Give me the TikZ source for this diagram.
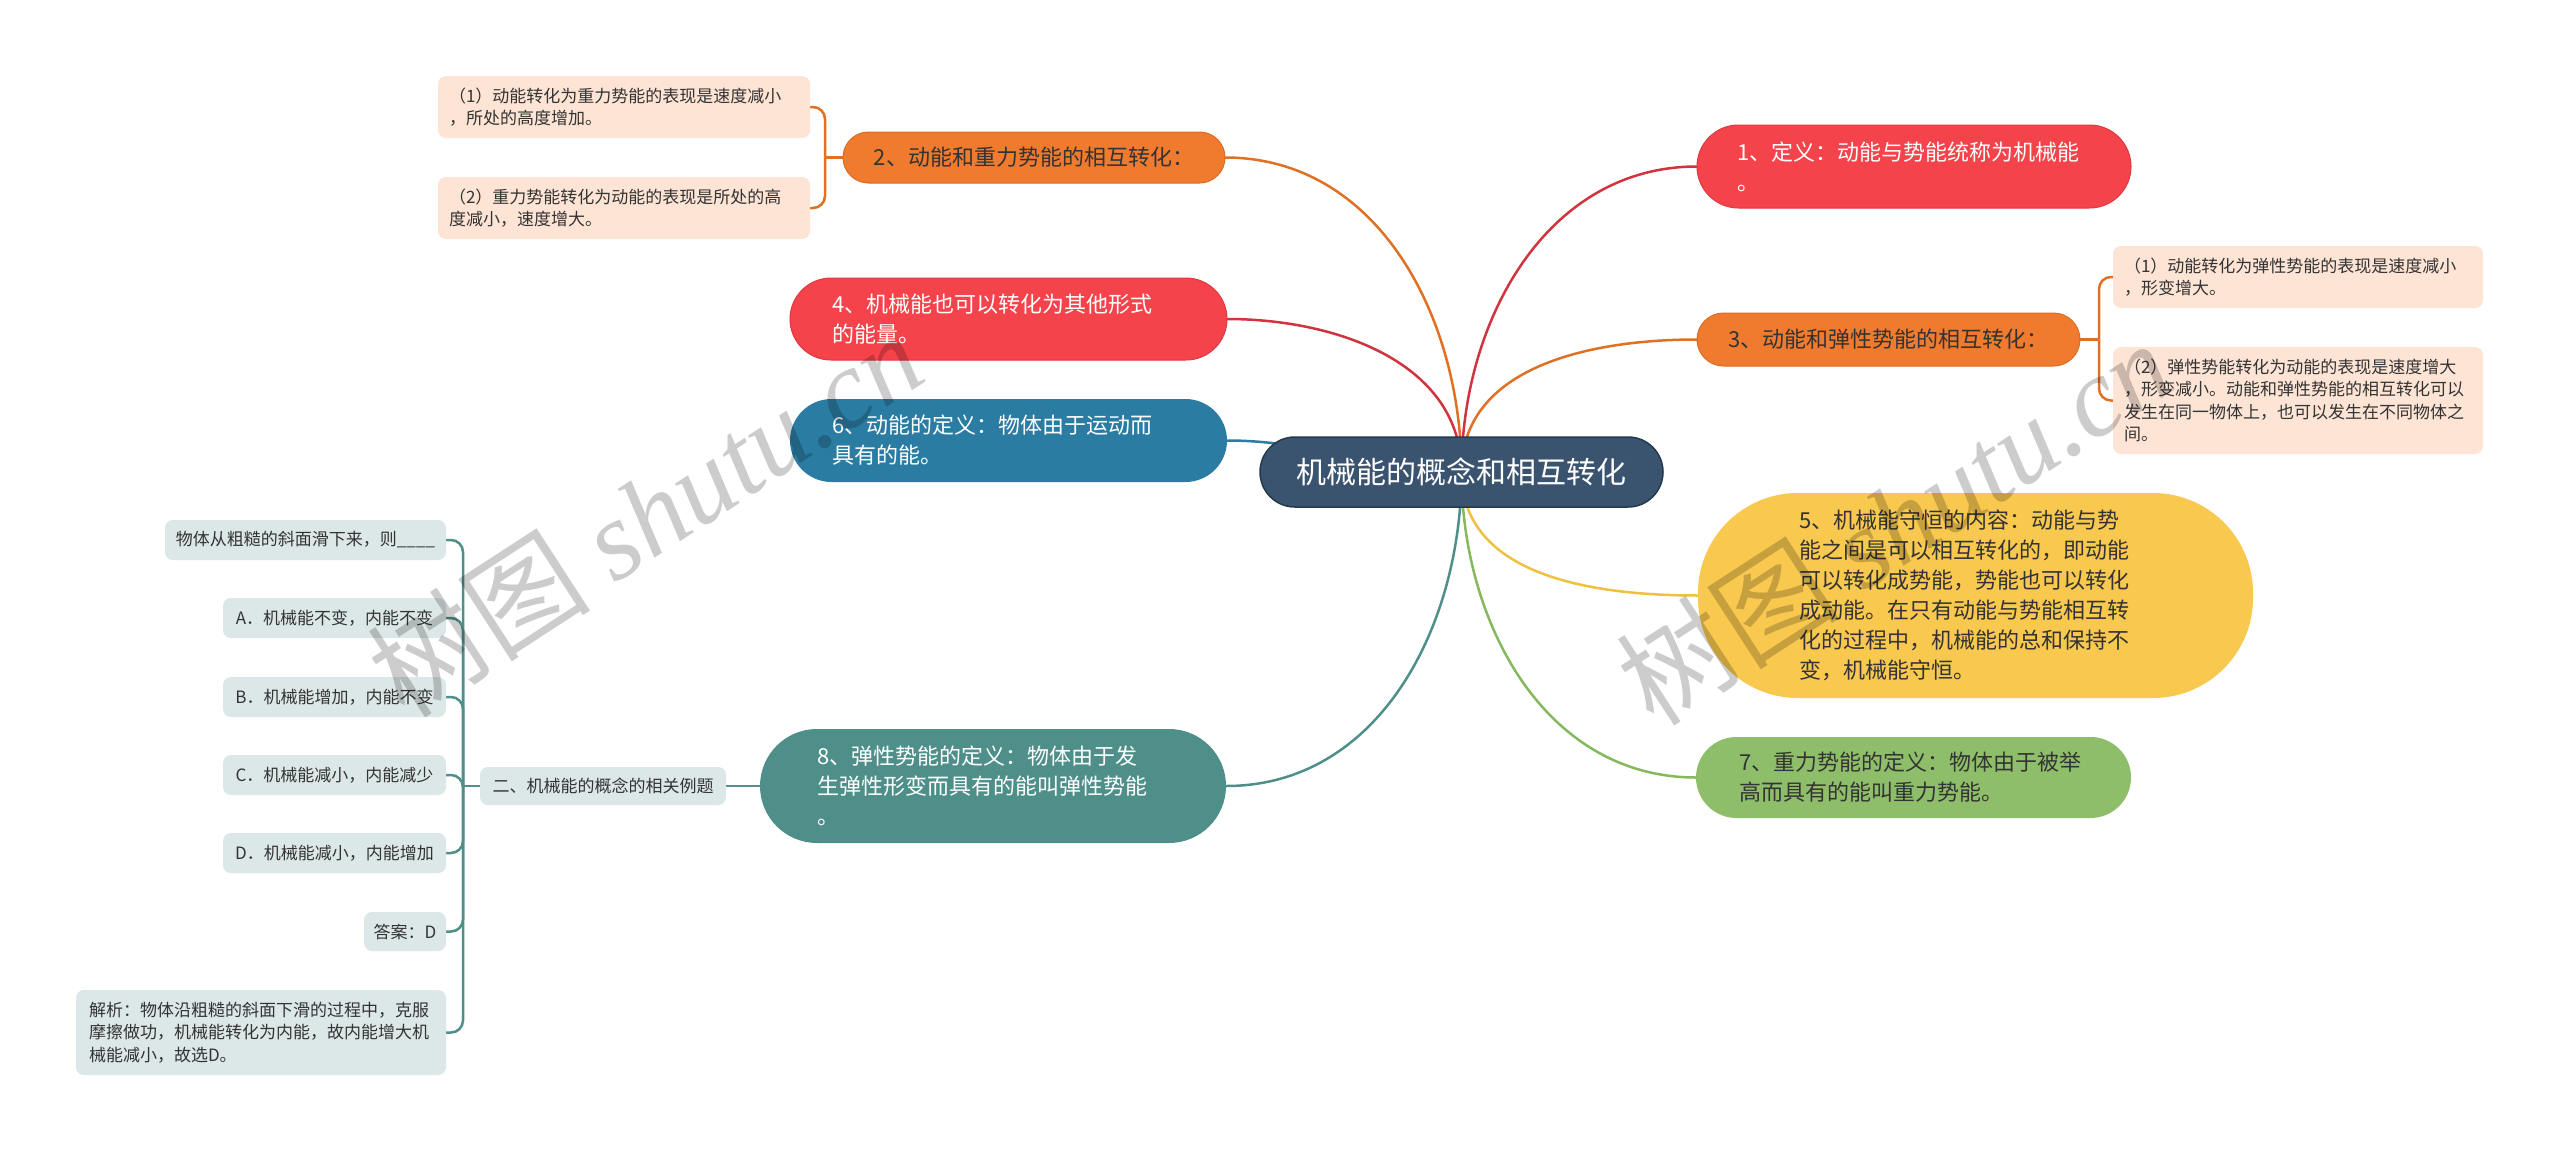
\documentclass[tikz,border=0pt]{standalone}
\usepackage{fontspec}
\setmainfont{Noto Sans CJK SC}
\newfontfamily\wmserif{Liberation Serif}
\usetikzlibrary{backgrounds}
\definecolor{rootc}{HTML}{3A5470}
\definecolor{rootb}{HTML}{24384E}
\definecolor{redc}{HTML}{F5434B}
\definecolor{redb}{HTML}{DC3A42}
\definecolor{orc}{HTML}{F07B2E}
\definecolor{orb}{HTML}{DC6C22}
\definecolor{bluec}{HTML}{2B7CA3}
\definecolor{yelc}{HTML}{F8C84F}
\definecolor{grnc}{HTML}{8FBE6B}
\definecolor{tealc}{HTML}{4F8F8A}
\definecolor{peach}{HTML}{FDE4D5}
\definecolor{ltteal}{HTML}{DCE8E7}
\definecolor{txt}{HTML}{333333}
\definecolor{lred}{HTML}{D0343E}
\definecolor{lor}{HTML}{E07024}
\definecolor{lyel}{HTML}{F0C040}
\definecolor{lgrn}{HTML}{86B85E}
\begin{document}
\begin{tikzpicture}[x=1pt,y=1pt]
\tikzset{
  base/.style={inner sep=0pt, outer sep=0pt},
  bignode/.style={base, font=\fontsize{22}{30}\selectfont, align=left},
  smallnode/.style={base, font=\fontsize{17}{22.5}\selectfont, align=left, text=txt, rounded corners=8pt},
  peachnode/.style={smallnode, fill=peach},
  tealnode/.style={smallnode, fill=ltteal},
  conn/.style={line width=2.5pt, line cap=round},
  brk/.style={line width=2.5pt, rounded corners=12pt},
  wm/.style={base, text=black, text opacity=0.2, font=\fontsize{112}{112}\selectfont},
}
\useasboundingbox (0,0) rectangle (2560,-1151);

% root
\node[base, fill=rootc, draw=rootb, line width=1.5pt, rounded corners=35pt, minimum width=403pt, minimum height=70pt, text=white, font=\fontsize{30}{36}\selectfont] (root) at (1461.5,-472) {机械能的概念和相互转化};

% main branches
\node[bignode, fill=redc, draw=redb, line width=1pt, rounded corners=41.5pt, minimum width=434pt, minimum height=83pt, text width=354pt, text=white] (n1) at (1914,-166.5) {1、定义：动能与势能统称为机械能\\。};
\node[bignode, fill=orc, draw=orb, line width=1pt, rounded corners=25.5pt, minimum width=382pt, minimum height=51pt, align=center, text=txt] (n2) at (1034,-157.5) {2、动能和重力势能的相互转化：};
\node[bignode, fill=orc, draw=orb, line width=1pt, rounded corners=26.5pt, minimum width=383pt, minimum height=53pt, align=center, text=txt] (n3) at (1888.5,-339.5) {3、动能和弹性势能的相互转化：};
\node[bignode, fill=redc, draw=redb, line width=1pt, rounded corners=41pt, minimum width=437pt, minimum height=82pt, text width=353pt, text=white] (n4) at (1008.5,-319) {4、机械能也可以转化为其他形式\\的能量。};
\node[bignode, fill=yelc, rounded corners=100pt, minimum width=555pt, minimum height=205pt, text width=353pt, text=txt] (n5) at (1975.5,-595.5) {5、机械能守恒的内容：动能与势\\能之间是可以相互转化的，即动能\\可以转化成势能，势能也可以转化\\成动能。在只有动能与势能相互转\\化的过程中，机械能的总和保持不\\变，机械能守恒。};
\node[bignode, fill=bluec, rounded corners=41.5pt, minimum width=437pt, minimum height=83pt, text width=353pt, text=white] (n6) at (1008.5,-440.5) {6、动能的定义：物体由于运动而\\具有的能。};
\node[bignode, fill=grnc, rounded corners=40.5pt, minimum width=435pt, minimum height=81pt, text width=349pt, text=txt] (n7) at (1913.5,-777.5) {7、重力势能的定义：物体由于被举\\高而具有的能叫重力势能。};
\node[bignode, fill=tealc, rounded corners=57pt, minimum width=466pt, minimum height=114pt, text width=352pt, text=white] (n8) at (993,-786) {8、弹性势能的定义：物体由于发\\生弹性形变而具有的能叫弹性势能\\。};

% children of 2
\node[peachnode, minimum width=372pt, minimum height=62pt, text width=350pt] (c2a) at (624,-107) {（1）动能转化为重力势能的表现是速度减小\\，所处的高度增加。};
\node[peachnode, minimum width=372pt, minimum height=62pt, text width=350pt] (c2b) at (624,-208) {（2）重力势能转化为动能的表现是所处的高\\度减小，速度增大。};

% children of 3
\node[peachnode, minimum width=370pt, minimum height=62pt, text width=348pt] (c3a) at (2298,-277) {（1）动能转化为弹性势能的表现是速度减小\\，形变增大。};
\node[peachnode, minimum width=370pt, minimum height=107pt, text width=348pt] (c3b) at (2298,-400.5) {（2）弹性势能转化为动能的表现是速度增大\\，形变减小。动能和弹性势能的相互转化可以\\发生在同一物体上，也可以发生在不同物体之\\间。};

% example group
\node[tealnode, minimum width=246pt, minimum height=38pt, align=center] (q2) at (603,-786) {二、机械能的概念的相关例题};
\node[tealnode, minimum width=281pt, minimum height=40pt, align=center] (e1) at (305.5,-540) {物体从粗糙的斜面滑下来，则\_\_\_\_};
\node[tealnode, minimum width=223pt, minimum height=40pt, align=center] (e2) at (334.5,-618) {A．机械能不变，内能不变};
\node[tealnode, minimum width=223pt, minimum height=40pt, align=center] (e3) at (334.5,-697) {B．机械能增加，内能不变};
\node[tealnode, minimum width=223pt, minimum height=40pt, align=center] (e4) at (334.5,-775) {C．机械能减小，内能减少};
\node[tealnode, minimum width=223pt, minimum height=40pt, align=center] (e5) at (334.5,-853) {D．机械能减小，内能增加};
\node[tealnode, minimum width=82pt, minimum height=39pt, align=center] (e6) at (405,-931.5) {答案：D};
\node[tealnode, minimum width=370pt, minimum height=85pt, text width=344pt] (e7) at (261,-1032.5) {解析：物体沿粗糙的斜面下滑的过程中，克服\\摩擦做功，机械能转化为内能，故内能增大机\\械能减小，故选D。};

\coordinate (b2) at (825,-157.5);
\coordinate (b3) at (2099,-339.5);
\coordinate (bq) at (463,-786);

\begin{pgfonlayer}{background}
\fill[white] (0,0) rectangle (2560,-1151);
\draw[conn, draw=lred] (root.center) to[out=90,in=180] (n1.west);
\draw[conn, draw=lor] (root.center) to[out=90,in=0] (n2.east);
\draw[conn, draw=lor] (root.center) to[out=90,in=180] (n3.west);
\draw[conn, draw=lred] (root.center) to[out=90,in=0] (n4.east);
\draw[conn, draw=lyel] (root.center) to[out=270,in=180] (n5.west);
\draw[conn, draw=bluec] (root.center) to[out=180,in=0] (n6.east);
\draw[conn, draw=lgrn] (root.center) to[out=270,in=180] (n7.west);
\draw[conn, draw=tealc] (root.center) to[out=270,in=0] (n8.east);
\draw[conn, draw=tealc] (n8.west) -- (q2.east);
\draw[brk, draw=lor] (n2.west) -- (b2);
\draw[brk, draw=lor] (b2) |- (c2a.east);
\draw[brk, draw=lor] (b2) |- (c2b.east);
\draw[brk, draw=lor] (n3.east) -- (b3);
\draw[brk, draw=lor] (b3) |- (c3a.west);
\draw[brk, draw=lor] (b3) |- (c3b.west);
\draw[brk, draw=tealc] (q2.west) -- (bq);
\foreach \e in {e1,e2,e3,e4,e5,e6,e7} {
  \draw[brk, draw=tealc] (bq) |- (\e.east);
}
\end{pgfonlayer}

% watermarks
\node[wm, rotate=33] (wm1) at (645,-514) {树图 {\wmserif\itshape shutu.cn}};
\node[wm, rotate=33] (wm2) at (1894,-522) {树图 {\wmserif\itshape shutu.cn}};
\end{tikzpicture}
\end{document}
